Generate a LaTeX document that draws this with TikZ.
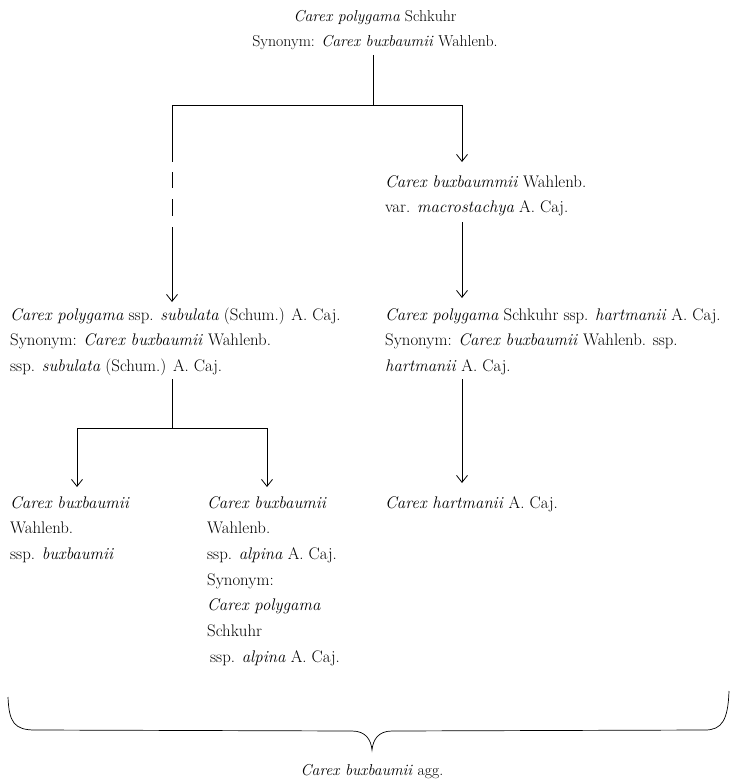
\documentclass[tikz,border=0pt]{standalone}
\usepackage{fontspec}
\usetikzlibrary{arrows.meta}
\begin{document}
\begin{tikzpicture}[x=1pt,y=-1pt,
  txt/.style={inner sep=0pt,anchor=base west,font=\fontsize{16.8}{19}\selectfont},
  ctxt/.style={txt,anchor=base},
  ttl/.style={ctxt,font=\fontsize{15.8}{19}\selectfont},
  conn/.style={line width=0.8pt},
  arr/.style={conn,-{Straight Barb[length=7pt,width=11pt,line width=0.8pt]}}]
\useasboundingbox (0,0) rectangle (740,779);
% title
\node[ttl] (t1) at (375,21) {\textit{Carex polygama} Schkuhr};
\node[ttl] (t2) at (375,46.5) {Synonym: \textit{Carex buxbaumii} Wahlenb.};
% right column
\node[txt] (r1) at (385,187) {\textit{Carex buxbaummii} Wahlenb.};
\node[txt] (r2) at (385,212.5) {var. \textit{macrostachya} A. Caj.};
\node[txt] (r3) at (385,320) {\textit{Carex polygama} Schkuhr ssp. \textit{hartmanii} A. Caj.};
\node[txt] (r4) at (385,345.5) {Synonym: \textit{Carex buxbaumii} Wahlenb. ssp.};
\node[txt] (r5) at (385,371) {\textit{hartmanii} A. Caj.};
\node[txt] (r6) at (385,508) {\textit{Carex hartmanii} A. Caj.};
% left column
\node[txt] (l1) at (10,320) {\textit{Carex polygama} ssp. \textit{subulata} (Schum.) A. Caj.};
\node[txt] (l2) at (10,345.5) {Synonym: \textit{Carex buxbaumii} Wahlenb.};
\node[txt] (l3) at (10,371) {ssp. \textit{subulata} (Schum.) A. Caj.};
\node[txt] (a1) at (10,508) {\textit{Carex buxbaumii}};
\node[txt] (a2) at (10,533.7) {Wahlenb.};
\node[txt] (a3) at (10,559.4) {ssp. \textit{buxbaumii}};
% middle column
\node[txt] (m1) at (207,508) {\textit{Carex buxbaumii}};
\node[txt] (m2) at (207,533.7) {Wahlenb.};
\node[txt] (m3) at (207,559.4) {ssp. \textit{alpina} A. Caj.};
\node[txt] (m4) at (207,585.1) {Synonym:};
\node[txt] (m5) at (207,610.8) {\textit{Carex polygama}};
\node[txt] (m6) at (207,636.5) {Schkuhr};
\node[txt] (m7) at (210,662.2) {ssp. \textit{alpina} A. Caj.};
% bottom label
\node[ttl] (agg) at (372,775) {\textit{Carex buxbaumii} agg.};
% junctions
\coordinate (j0) at (373,105);
\coordinate (jl) at (172,105);
\coordinate (jr) at (462,105);
\coordinate (k0) at (172,428);
\coordinate (kl) at (77,428);
\coordinate (kr) at (267,428);
% connectors
\draw[conn] (t2.south -| j0) ++(0,5) -- (j0);
\draw[conn] (jl) -- (jr);
\draw[arr] (jr) -- (462,162);
\draw[arr] (462,222) -- (462,298);
\draw[arr] (462,379) -- (462,483);
\draw[conn] (jl) -- (172,162);
\draw[conn] (172,172) -- (172,188);
\draw[conn] (172,199) -- (172,216);
\draw[arr] (172,227) -- (172,302);
\draw[conn] (l3.south -| k0) ++(0,4) -- (k0);
\draw[conn] (kl) -- (kr);
\draw[arr] (kl) -- (77,487);
\draw[arr] (kr) -- (267,487);
% brace
\draw[line width=0.7pt] (8,697) .. controls (9,722) and (14,730) .. (35,730)
  -- (352,731) .. controls (366,731) and (371,740) .. (372,750)
  .. controls (373,740) and (378,731) .. (392,731)
  -- (705,730) .. controls (722,730) and (728,720) .. (729,691);
\end{tikzpicture}
\end{document}
